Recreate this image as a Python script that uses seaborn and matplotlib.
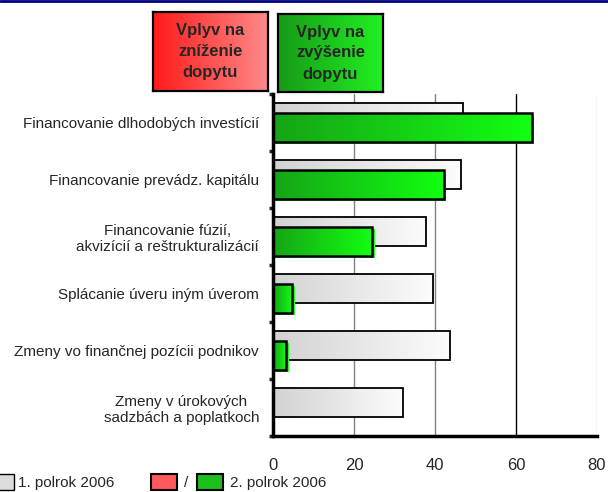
import numpy as np
import matplotlib
matplotlib.use("Agg")
import matplotlib.pyplot as plt
import seaborn as sns
from matplotlib.colors import LinearSegmentedColormap
from matplotlib.patches import Patch, Rectangle
from matplotlib.lines import Line2D

# Dáta
kategorie = [
    "Financovanie dlhodobých investícií",
    "Financovanie prevádz. kapitálu",
    "Financovanie fúzií,\nakvizícií a reštrukturalizácií",
    "Splácanie úveru iným úverom",
    "Zmeny vo finančnej pozícii podnikov",
    "Zmeny v úrokových\nsadzbách a poplatkoch",
]
polrok1 = [46.9, 46.4, 37.9, 39.4, 43.7, 32.2]
polrok2 = [63.9, 42.2, 24.5, 4.8, 3.3, 0.0]
x_ticky = [0, 20, 40, 60, 80]
legenda = ["1. polrok 2006", "/", "2. polrok 2006"]
nadpis_znizenie = "Vplyv na\nzníženie\ndopytu"
nadpis_zvysenie = "Vplyv na\nzvýšenie\ndopytu"

sns.set_style("white")
plt.rcParams["font.family"] = ["Liberation Sans", "DejaVu Sans"]

W, H = 608, 492
fig = plt.figure(figsize=(W / 100, H / 100), dpi=100)
ax = fig.add_axes([273 / W, 1 - 436 / H, (597 - 273) / W, (436 - 94) / H])

cmap_siva = LinearSegmentedColormap.from_list("siva", ["#d2d2d2", "#fcfcfc"])
cmap_zelena = LinearSegmentedColormap.from_list("zelena", ["#16a416", "#12ff12"])
cmap_box_zelena = LinearSegmentedColormap.from_list("box_zelena", ["#179a17", "#22f022"])
cmap_cervena = LinearSegmentedColormap.from_list("cervena", ["#ff1a1a", "#ff8a8a"])

vyska = 0.51
posun = 0.08

# stĺpce cez seaborn
sns.barplot(x=polrok1, y=kategorie, orient="h", color="#e0e0e0", width=vyska,
            edgecolor="black", linewidth=1.3, ax=ax)
n1 = len(ax.patches)
sns.barplot(x=polrok2, y=kategorie, orient="h", color="#20c020", width=vyska,
            edgecolor="black", linewidth=1.8, ax=ax)

grad = np.linspace(0, 1, 256).reshape(1, -1)
for i, p in enumerate(ax.patches[:]):
    prvy = i < n1
    p.set_y(p.get_y() + (-posun if prvy else posun))
    p.set_zorder(3 if prvy else 5)
    x0, y0, w, h = p.get_x(), p.get_y(), p.get_width(), p.get_height()
    if w <= 0:
        p.set_visible(False)
        continue
    if not prvy:
        # svetlý tieň pod zeleným stĺpcom
        tien = Rectangle((x0 + 0.6, y0 + 0.045), w, h, facecolor="#22ff22",
                         edgecolor="none", zorder=4)
        ax.add_patch(tien)
    im = ax.imshow(grad, extent=[x0, x0 + w, y0 + h, y0], aspect="auto",
                   cmap=cmap_siva if prvy else cmap_zelena,
                   zorder=p.get_zorder() - 0.05)
    im.set_clip_path(p)
    p.set_facecolor("none")

ax.set_xlim(0, 80)
ax.set_ylim(5.5, -0.5)

# mriežka
farby_mriezky = {20: "#808080", 40: "#808080", 60: "#000000", 80: "#e0e0e0"}
for xv, c in farby_mriezky.items():
    ax.axvline(xv, color=c, linewidth=1, zorder=1)

ax.set_xticks(x_ticky)
ax.set_xticklabels([str(v) for v in x_ticky], fontsize=12)
ax.tick_params(axis="x", direction="out", length=4, width=2.5, pad=12, color="black")
ax.set_yticks(range(len(kategorie)))
ax.set_yticklabels(kategorie, fontsize=11)
for t in ax.get_yticklabels():
    t.set_multialignment("center")
ax.tick_params(axis="y", which="major", length=0, pad=10)
ax.set_yticks(np.arange(-0.5, len(kategorie), 1), minor=True)
ax.tick_params(axis="y", which="minor", direction="out", length=3, width=2.5, left=True)
ax.set_xlabel("")
ax.set_ylabel("")

for s in ["top", "right"]:
    ax.spines[s].set_visible(False)
for s in ["left", "bottom"]:
    ax.spines[s].set_linewidth(2.5)
    ax.spines[s].set_color("black")
    ax.spines[s].set_zorder(6)

# nadpisové boxy
def box(rect, cmap, text):
    bx = fig.add_axes(rect)
    bx.imshow(grad, aspect="auto", cmap=cmap, extent=[0, 1, 0, 1])
    bx.set_xlim(0, 1)
    bx.set_ylim(0, 1)
    bx.set_xticks([])
    bx.set_yticks([])
    for s in bx.spines.values():
        s.set_linewidth(1.6)
        s.set_color("black")
    bx.text(0.5, 0.5, text, ha="center", va="center", fontsize=12,
            fontweight="bold", linespacing=1.5, transform=bx.transAxes)

box([153 / W, 1 - 91 / H, 115 / W, 79 / H], cmap_cervena, nadpis_znizenie)
box([278 / W, 1 - 92 / H, 105 / W, 78 / H], cmap_box_zelena, nadpis_zvysenie)

# tmavomodrá čiara hore
fig.add_artist(Line2D([0, 1], [1 - 1 / H, 1 - 1 / H], color="#000080",
                      linewidth=2, transform=fig.transFigure))

# legenda
h_siva = Patch(facecolor="#dcdcdc", edgecolor="black", linewidth=1)
h_cervena = Patch(facecolor="#ff5a5a", edgecolor="black", linewidth=1.5)
h_zelena = Patch(facecolor="#1cc01c", edgecolor="black", linewidth=1.5)
leg1 = fig.legend([h_siva], [legenda[0]], loc="center left",
                  bbox_to_anchor=(-3 / W, 1 - 482 / H), frameon=False, fontsize=11,
                  handlelength=1.1, handleheight=1.2, handletextpad=0.3,
                  borderaxespad=0, borderpad=0)
leg2 = fig.legend([h_cervena, h_zelena], legenda[1:], loc="center left",
                  bbox_to_anchor=(151 / W, 1 - 482 / H), frameon=False, fontsize=11,
                  ncol=2, handlelength=1.7, handleheight=1.2, handletextpad=0.45,
                  columnspacing=0.6, borderaxespad=0, borderpad=0)

fig.savefig("out.png", dpi=100)
